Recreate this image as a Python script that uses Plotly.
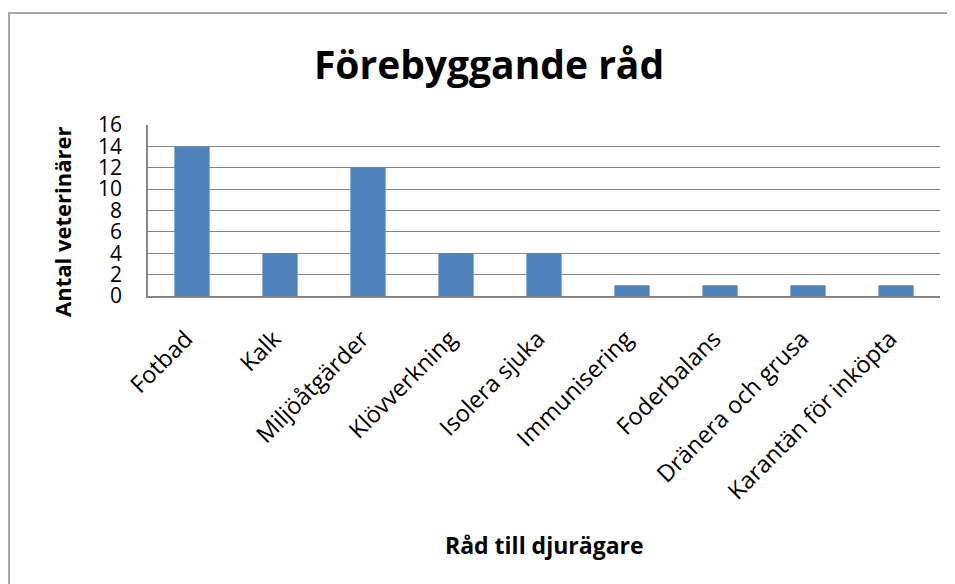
import plotly.graph_objects as go

# Data
categories = [
    "Fotbad", "Kalk", "Miljöåtgärder", "Klövverkning", "Isolera sjuka",
    "Immunisering", "Foderbalans", "Dränera och grusa", "Karantän för inköpta",
]
counts = [14, 4, 12, 4, 4, 1, 1, 1, 1]
y_ticks = list(range(0, 17, 2))

# the page body has an 8px margin, so the figure is sized to fit inside it
W, H = 947, 576
L, R, T, B = 140, 15, 117, 288  # plot area margins in px

FONT = "Open Sans"
GRID = "#868686"

fig = go.Figure()
fig.add_trace(go.Bar(
    x=categories, y=counts,
    marker=dict(color="#4F81BD", line=dict(width=0)),
    width=0.4,
))


def px_x(px):
    return (px - L) / (W - L - R)


def px_y(py):
    return (H - B - py) / (H - T - B)


fig.update_layout(
    width=W, height=H,
    margin=dict(l=L, r=R, t=T, b=B),
    paper_bgcolor="white", plot_bgcolor="white",
    showlegend=False,
    font=dict(family=FONT, color="black", size=21),
    title=dict(
        text="<b>Förebyggande råd</b>",
        x=481 / W, xanchor="center", y=1 - 57 / H, yanchor="middle",
        font=dict(family=FONT, size=39, color="black"),
    ),
    xaxis=dict(
        tickangle=-45, ticks="", showline=True, linecolor=GRID, linewidth=1.5,
        tickfont=dict(size=23.5), automargin=False,
        ticklabelstandoff=18, ticklabelshift=-6,
    ),
    yaxis=dict(
        range=[0, 16], tickvals=y_ticks, showgrid=True, gridcolor=GRID,
        gridwidth=1, showline=True, linecolor=GRID, linewidth=1.5,
        ticks="", tickfont=dict(size=21), automargin=False, ticklabelstandoff=20,
    ),
    annotations=[
        dict(text="<b>Antal veterinärer</b>", xref="paper", yref="paper",
             x=px_x(54), y=px_y(214), xanchor="center", yanchor="middle",
             textangle=-90, showarrow=False, font=dict(size=22)),
        dict(text="<b>Råd till djurägare</b>", xref="paper", yref="paper",
             x=px_x(536), y=px_y(537), xanchor="center", yanchor="middle",
             showarrow=False, font=dict(size=23)),
    ],
    shapes=[
        dict(type="rect", xref="paper", yref="paper",
             x0=px_x(1), x1=px_x(990), y0=px_y(5), y1=px_y(700),
             line=dict(color="#8c8c8c", width=1.5)),
    ],
)

fig.write_html("out.html")
